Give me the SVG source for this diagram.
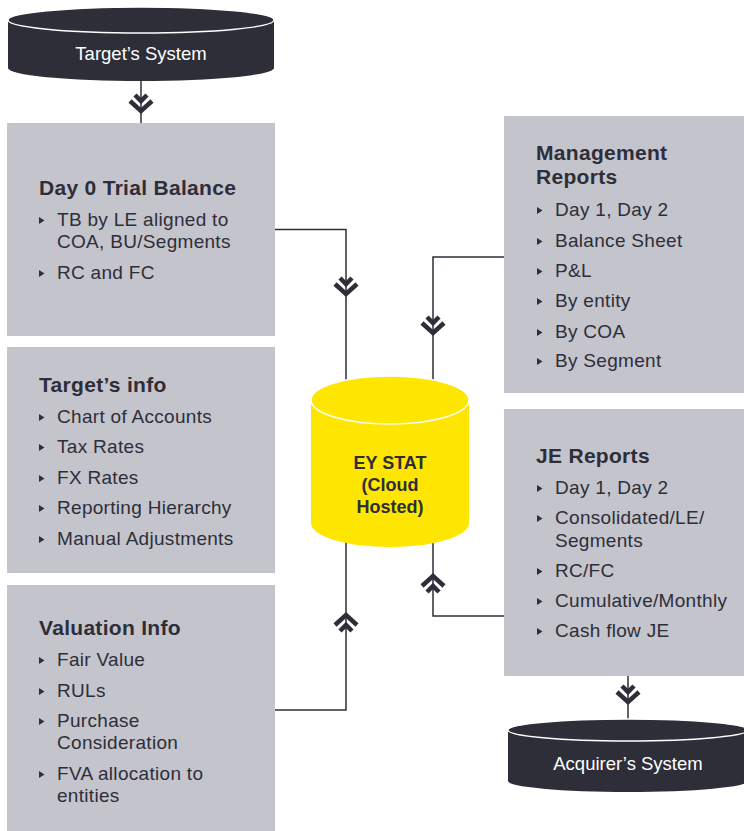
<svg xmlns="http://www.w3.org/2000/svg" xmlns:xlink="http://www.w3.org/1999/xlink" width="744" height="831" viewBox="0 0 744 831">
<style>
.box{fill:#c4c4cd}
.dark{fill:#2e2e38}
.ttl{font-family:"Liberation Sans",Arial,sans-serif;font-weight:bold;font-size:21px;letter-spacing:0.3px;fill:#2e2e38}
.itm{font-family:"Liberation Sans",Arial,sans-serif;font-size:19px;letter-spacing:0.3px;fill:#2e2e38}
.sys{font-family:"Liberation Sans",Arial,sans-serif;font-size:18.5px;fill:#ffffff;text-anchor:middle}
.ey{font-family:"Liberation Sans",Arial,sans-serif;font-weight:bold;font-size:18px;fill:#2e2e38;text-anchor:middle}
.conn{fill:none;stroke:#2e2e38;stroke-width:1.5}
.chev{fill:none;stroke:#2e2e38;stroke-width:4.5}
</style>
<defs>
<g id="chev" class="chev">
<polyline points="-6,-9 0,-3 6,-9"/>
<polyline points="-11,-3 0,7 11,-3"/>
</g>
<polygon id="bul" points="0,-9 5.5,-5.5 0,-2" fill="#2e2e38"/>
</defs>

<g id="connectors">
<path class="conn" d="M141,81 V123"/>
<path class="conn" d="M275,229.5 H346 V385"/>
<path class="conn" d="M504,257 H433 V385"/>
<path class="conn" d="M275,710 H346 V540"/>
<path class="conn" d="M504,616 H433 V540"/>
<path class="conn" d="M628,676 V722"/>
<use xlink:href="#chev" transform="translate(141,104)"/>
<use xlink:href="#chev" transform="translate(346,287)"/>
<use xlink:href="#chev" transform="translate(433,326)"/>
<use xlink:href="#chev" transform="translate(346,622) rotate(180)"/>
<use xlink:href="#chev" transform="translate(433,583) rotate(180)"/>
<use xlink:href="#chev" transform="translate(628,695)"/>
</g>

<g id="target-system">
<path class="dark" d="M8,20 V68 A133,13 0 0 0 274,68 V20 Z"/>
<ellipse cx="141" cy="20" rx="133" ry="13" fill="#2e2e38" stroke="#ffffff" stroke-width="1.5"/>
<text class="sys" x="141" y="60">Target’s System</text>
</g>

<g id="day0">
<rect class="box" x="7" y="123" width="268" height="213"/>
<text class="ttl" x="39" y="195">Day 0 Trial Balance</text>
<use xlink:href="#bul" x="39" y="226"/>
<text class="itm" x="57" y="226">TB by LE aligned to</text>
<text class="itm" x="57" y="248">COA, BU/Segments</text>
<use xlink:href="#bul" x="39" y="279"/>
<text class="itm" x="57" y="279">RC and FC</text>
</g>

<g id="targets-info">
<rect class="box" x="7" y="347" width="268" height="226"/>
<text class="ttl" x="39" y="392">Target’s info</text>
<use xlink:href="#bul" x="39" y="423"/>
<text class="itm" x="57" y="423">Chart of Accounts</text>
<use xlink:href="#bul" x="39" y="453"/>
<text class="itm" x="57" y="453">Tax Rates</text>
<use xlink:href="#bul" x="39" y="484"/>
<text class="itm" x="57" y="484">FX Rates</text>
<use xlink:href="#bul" x="39" y="514"/>
<text class="itm" x="57" y="514">Reporting Hierarchy</text>
<use xlink:href="#bul" x="39" y="545"/>
<text class="itm" x="57" y="545">Manual Adjustments</text>
</g>

<g id="valuation">
<rect class="box" x="7" y="585" width="268" height="246"/>
<text class="ttl" x="39" y="635">Valuation Info</text>
<use xlink:href="#bul" x="39" y="666"/>
<text class="itm" x="57" y="666">Fair Value</text>
<use xlink:href="#bul" x="39" y="697"/>
<text class="itm" x="57" y="697">RULs</text>
<use xlink:href="#bul" x="39" y="727"/>
<text class="itm" x="57" y="727">Purchase</text>
<text class="itm" x="57" y="749">Consideration</text>
<use xlink:href="#bul" x="39" y="780"/>
<text class="itm" x="57" y="780">FVA allocation to</text>
<text class="itm" x="57" y="802">entities</text>
</g>

<g id="ey-stat">
<path fill="#ffe600" d="M311,400 V523 A79,24 0 0 0 469,523 V400 Z"/>
<ellipse cx="390" cy="400" rx="79" ry="24" fill="#ffe600" stroke="#ffffff" stroke-width="1.5"/>
<text class="ey" x="390" y="469">EY STAT</text>
<text class="ey" x="390" y="491">(Cloud</text>
<text class="ey" x="390" y="513">Hosted)</text>
</g>

<g id="management">
<rect class="box" x="504" y="116" width="240" height="277"/>
<text class="ttl" x="536" y="160">Management</text>
<text class="ttl" x="536" y="184">Reports</text>
<use xlink:href="#bul" x="537" y="216"/>
<text class="itm" x="555" y="216">Day 1, Day 2</text>
<use xlink:href="#bul" x="537" y="247"/>
<text class="itm" x="555" y="247">Balance Sheet</text>
<use xlink:href="#bul" x="537" y="277"/>
<text class="itm" x="555" y="277">P&amp;L</text>
<use xlink:href="#bul" x="537" y="307"/>
<text class="itm" x="555" y="307">By entity</text>
<use xlink:href="#bul" x="537" y="338"/>
<text class="itm" x="555" y="338">By COA</text>
<use xlink:href="#bul" x="537" y="367"/>
<text class="itm" x="555" y="367">By Segment</text>
</g>

<g id="je-reports">
<rect class="box" x="504" y="409" width="240" height="267"/>
<text class="ttl" x="536" y="463">JE Reports</text>
<use xlink:href="#bul" x="537" y="494"/>
<text class="itm" x="555" y="494">Day 1, Day 2</text>
<use xlink:href="#bul" x="537" y="524"/>
<text class="itm" x="555" y="524">Consolidated/LE/</text>
<text class="itm" x="555" y="547">Segments</text>
<use xlink:href="#bul" x="537" y="577"/>
<text class="itm" x="555" y="577">RC/FC</text>
<use xlink:href="#bul" x="537" y="607"/>
<text class="itm" x="555" y="607">Cumulative/Monthly</text>
<use xlink:href="#bul" x="537" y="637"/>
<text class="itm" x="555" y="637">Cash flow JE</text>
</g>

<g id="acquirer-system">
<path class="dark" d="M508,730 V781 A120,11 0 0 0 748,781 V730 Z"/>
<ellipse cx="628" cy="730" rx="120" ry="11" fill="#2e2e38" stroke="#ffffff" stroke-width="1.5"/>
<text class="sys" x="628" y="770">Acquirer’s System</text>
</g>
</svg>
